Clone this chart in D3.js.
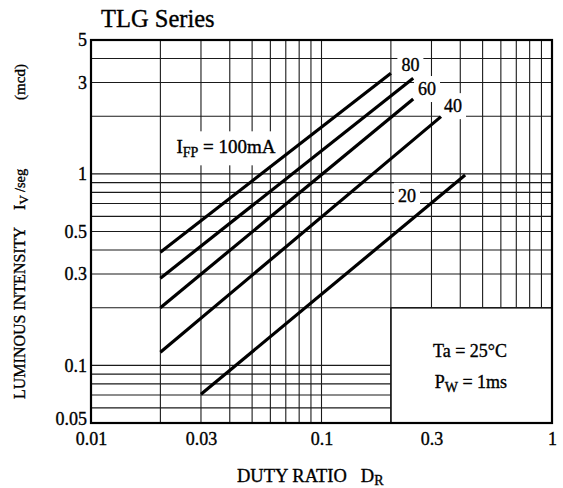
<!DOCTYPE html>
<html><head><meta charset="utf-8">
<script src="https://cdn.jsdelivr.net/npm/d3@7"></script>
<style>
body{margin:0;background:#fff}
svg{display:block}
text{font-family:"Liberation Serif","Times New Roman",serif;fill:#000;stroke:#000;stroke-width:0.35px}
</style>
</head><body>
<svg id="c" width="563" height="488"></svg>
<script>
// ---- data ----
const currents  = [100, 80, 60, 40, 20];          // IFP (mA)
const dutyStart = [0.02, 0.02, 0.02, 0.02, 0.03];
const dutyEnd   = [0.20, 0.25, 0.25, 0.33, 0.42];
const ivStart   = [0.39, 0.285, 0.20, 0.117, 0.0706];
const ivEnd     = [3.35, 3.16, 2.46, 1.99, 0.986];
const xTickValues = [0.01, 0.03, 0.1, 0.3, 1];
const xTickLabels = ["0.01", "0.03", "0.1", "0.3", "1"];
const yTickValues = [0.05, 0.1, 0.3, 0.5, 1, 3, 5];
const yTickLabels = ["0.05", "0.1", "0.3", "0.5", "1", "3", "5"];
const xGrid = [0.02,0.03,0.04,0.05,0.06,0.07,0.08,0.09,0.1,0.2,0.3,0.4,0.5,0.6,0.7,0.8,0.9];
const yGrid = [0.06,0.07,0.08,0.09,0.1,0.2,0.3,0.4,0.5,0.6,0.7,0.8,0.9,1,2,3,4];
const boxCorner = [0.2, 0.2]; // lower-right note box (duty, iv)

// ---- layout ----
const svg = d3.select("#c");
const L = 91, R = 552, T = 40, B = 423;
const x = d3.scaleLog().domain([0.01, 1]).range([L, R]);
const y = d3.scaleLog().domain([0.05, 5]).range([B, T]);

// grid
const grid = svg.append("g").attr("stroke", "#1a1a1a").attr("stroke-width", 1.1);
xGrid.forEach(v => {
  grid.append("line").attr("x1", x(v)).attr("x2", x(v))
    .attr("y1", T).attr("y2", v > boxCorner[0] ? y(boxCorner[1]) : B);
});
yGrid.forEach(v => {
  grid.append("line").attr("y1", y(v)).attr("y2", y(v))
    .attr("x1", L).attr("x2", v < boxCorner[1] ? x(boxCorner[0]) : R);
});

const bgLayer = svg.append("g");
const lineLayer = svg.append("g");
const txtLayer = svg.append("g");

function label(parts, dx, dy, fs, pad) {
  const t = txtLayer.append("text").attr("x", x(dx)).attr("y", y(dy))
    .attr("text-anchor", "middle").attr("font-size", fs);
  parts.forEach(p => {
    t.append("tspan").text(p[0]).attr("font-size", p[1] || fs).attr("dy", p[2] || 0);
  });
  const bb = t.node().getBBox();
  if (pad !== null) {
    bgLayer.append("rect").attr("x", bb.x - pad).attr("y", bb.y - pad + 1)
      .attr("width", bb.width + 2 * pad).attr("height", bb.height + 2 * pad - 2)
      .attr("fill", "#fff");
  }
  return t;
}

// data lines
currents.forEach((c, i) => {
  lineLayer.append("line")
    .attr("x1", x(dutyStart[i])).attr("y1", y(ivStart[i]))
    .attr("x2", x(dutyEnd[i])).attr("y2", y(ivEnd[i]))
    .attr("stroke", "#000").attr("stroke-width", 3.2);
});

// curve labels
label([["80"]], 0.243, 3.45, 18, 4);
label([["60"]], 0.287, 2.58, 18, 4);
label([["40"]], 0.372, 2.10, 18, 4);
label([["20"]], 0.235, 0.715, 18, 4);
label([["I"], ["FP", 14, 4], [" = 100mA", 19, -4]], 0.0385, 1.28, 19, 6);

// note box
svg.append("line").attr("x1", x(boxCorner[0])).attr("x2", x(boxCorner[0]))
  .attr("y1", y(boxCorner[1])).attr("y2", B).attr("stroke", "#1a1a1a").attr("stroke-width", 1.5);
svg.append("line").attr("x1", x(boxCorner[0])).attr("x2", R)
  .attr("y1", y(boxCorner[1])).attr("y2", y(boxCorner[1])).attr("stroke", "#1a1a1a").attr("stroke-width", 1.5);
label([["Ta = 25°C"]], 0.441, 0.110, 18, null);
label([["P"], ["W", 14, 4], [" = 1ms", 18, -4]], 0.445, 0.0765, 18, null);

// frame
svg.append("rect").attr("x", L).attr("y", T).attr("width", R - L).attr("height", B - T)
  .attr("fill", "none").attr("stroke", "#000").attr("stroke-width", 2.2);

// axes (labels only)
const xAxis = svg.append("g").attr("transform", `translate(0,${B})`)
  .call(d3.axisBottom(x).tickValues(xTickValues).tickFormat((d, i) => xTickLabels[i]).tickSize(0).tickPadding(9));
const yAxis = svg.append("g").attr("transform", `translate(${L},0)`)
  .call(d3.axisLeft(y).tickValues(yTickValues).tickFormat((d, i) => yTickLabels[i]).tickSize(0).tickPadding(4));
[xAxis, yAxis].forEach(a => {
  a.select(".domain").remove();
  a.selectAll("text").attr("font-family", '"Liberation Serif",serif').attr("font-size", 18).attr("fill", "#000");
});
yAxis.selectAll(".tick").filter(d => d === yTickValues[0]).select("text").attr("dy", "0.1em");

// titles
svg.append("text").attr("x", 101).attr("y", 27).attr("font-size", 24.5).text("TLG Series");

const xt = svg.append("text").attr("x", 237).attr("y", 482).attr("font-size", 18.5);
xt.append("tspan").text("DUTY RATIO");
xt.append("tspan").attr("dx", 14).text("D");
xt.append("tspan").attr("font-size", 14).attr("dy", 3).text("R");

const yt = svg.append("g").attr("transform", "translate(25,0) rotate(-90)");
yt.append("text").attr("x", -313).attr("y", 0).attr("text-anchor", "middle").attr("font-size", 16).text("LUMINOUS INTENSITY");
const yt2 = yt.append("text").attr("x", -210).attr("y", 0).attr("font-size", 16.5);
yt2.append("tspan").text("I");
yt2.append("tspan").attr("font-size", 13).attr("dy", 3).text("V");
yt2.append("tspan").attr("font-size", 14.5).attr("dy", -3).attr("dx", 3).text("/seg");
yt.append("text").attr("x", -82).attr("y", 0).attr("text-anchor", "middle").attr("font-size", 15).text("(mcd)");
</script>
</body></html>
